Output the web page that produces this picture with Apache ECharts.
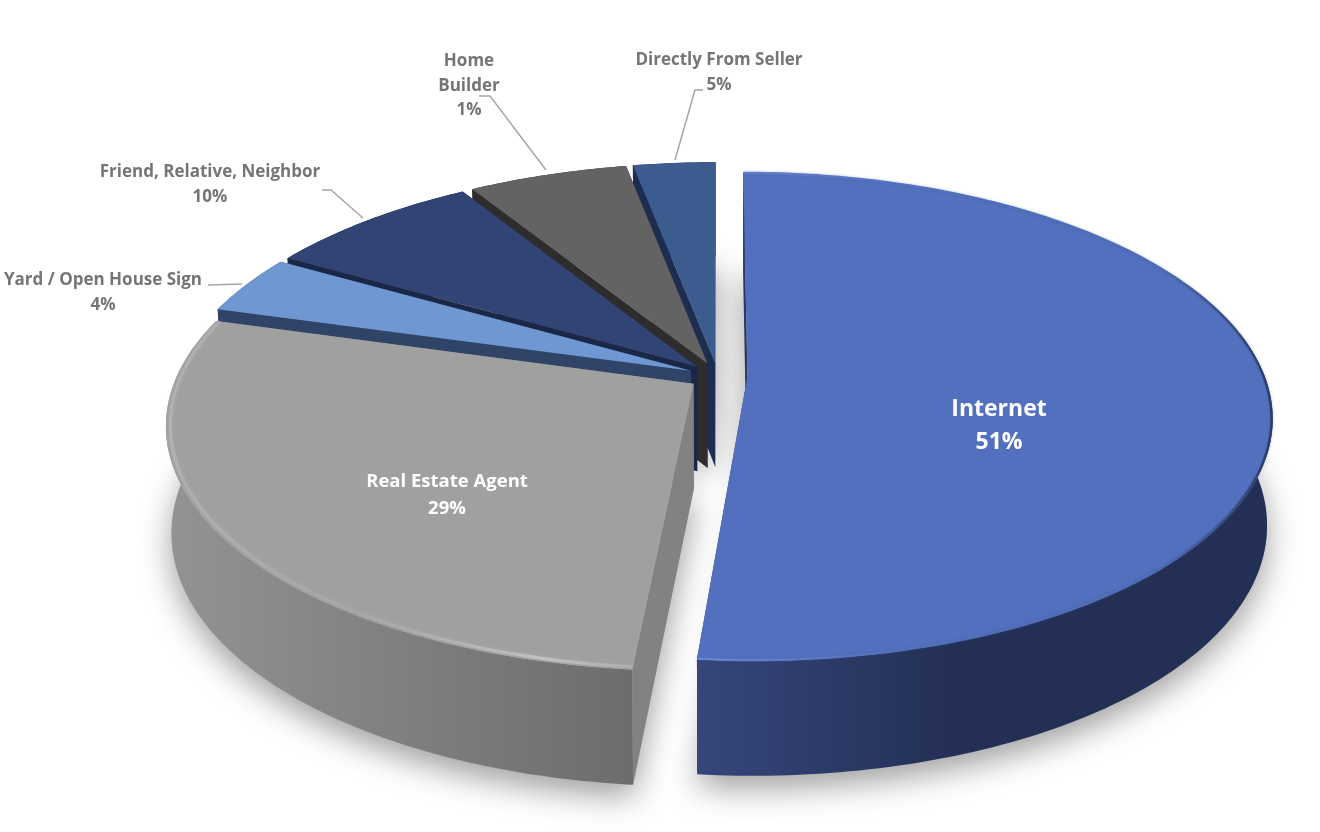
<!DOCTYPE html>
<html><head><meta charset="utf-8">
<style>html,body{margin:0;padding:0;background:#fff}#c{width:1320px;height:832px}</style>
<script src="https://cdn.jsdelivr.net/npm/echarts@6/dist/echarts.min.js"></script>
</head><body><div id="c"></div>
<script>
// ---- data ----
const categories = ['Internet','Real Estate Agent','Yard / Open House Sign','Friend, Relative, Neighbor','Home\nBuilder','Directly From Seller'];
const labelPercents = [51,29,4,10,1,5];          // printed on the chart
const drawnShares = [51.45,27.95,3.95,7.85,5.8,3];     // slice sizes as drawn (percent of the circle)

// ---- look ----
const topColors  = ['#5270bd','#a0a0a0','#6f98d3','#314473','#636363','#3c5b8f'];
const wallStops  = [['#35467a','#232f55'],['#939393','#6c6c6c'],['#2f4466','#2f4466'],['#1a2746','#1a2746'],['#2e2c2c','#2e2c2c'],['#1c2d50','#1c2d50']];
const cutColors  = ['#2a375f','#828282','#2f4466','#1a2746','#2e2c2c','#1c2d50'];
const paintOrder = [5,4,3,2,1,0];
const labelStyle = [
  {x:999,y:426,size:23,color:'#ffffff',lh:33},
  {x:447,y:495,size:18.5,color:'#ffffff',lh:27},
  {x:103,y:293,size:17,color:'#757575',lh:25},
  {x:210,y:185,size:17,color:'#757575',lh:25},
  {x:469,y:86,size:17,color:'#757575',lh:24.5},
  {x:719,y:73,size:17,color:'#757575',lh:25}
];
const leaders = [null,null,
  [[208,285],[242,284]],
  [[322,190],[331,190],[363,218]],
  [[479,96],[490,96],[546,170]],
  [[703,90],[695,90],[675,160]]
];

// ---- projection of a tilted disc ----
const CX=718, CY=376, R=517, TILT=0.459, PERSP=0.164, EXPLODE=0.057;
function proj(u,v,low){
  const d=1-PERSP*v;
  let x=R*u/d, y=R*TILT*v/d;
  if(low){ x*=0.99; y+=105+10*v; }
  return [CX+x,CY+y];
}
const total=drawnShares.reduce((a,b)=>a+b,0);
const ranges=[]; { let acc=0; drawnShares.forEach(s=>{ranges.push([acc/total*2*Math.PI,(acc+s)/total*2*Math.PI]);acc+=s;}); }
function arc(i,low,rad){
  const [a,b]=ranges[i], m=(a+b)/2, ou=Math.sin(m)*EXPLODE, ov=-Math.cos(m)*EXPLODE, pts=[];
  const n=Math.max(6,Math.ceil((b-a)*60));
  for(let k=0;k<=n;k++){const t=a+(b-a)*k/n; pts.push(proj(ou+Math.sin(t)*(rad||1),ov-Math.cos(t)*(rad||1),low));}
  return {pts,apex:proj(ou,ov,low)};
}
function wallFill(i){
  const t=arc(i,false).pts, xs=t.map(p=>p[0]), s=wallStops[i];
  return {type:'linear',global:true,x:Math.min(...xs),y:0,x2:Math.max(...xs),y2:0,
    colorStops: i===1 ? [{offset:0,color:s[0]},{offset:1,color:s[1]}]
                      : [{offset:0,color:s[0]},{offset:.45,color:s[1]},{offset:1,color:s[1]}]};
}
function slice(i){
  const up=arc(i,false), lo=arc(i,true), kids=[];
  const n=up.pts.length-1;
  kids.push({type:'polygon',shape:{points:[up.apex,up.pts[0],lo.pts[0],lo.apex]},style:{fill:cutColors[i]}});
  kids.push({type:'polygon',shape:{points:[up.apex,up.pts[n],lo.pts[n],lo.apex]},style:{fill:cutColors[i]}});
  kids.push({type:'polygon',shape:{points:up.pts.concat(lo.pts.slice().reverse())},style:{fill:wallFill(i)}});
  kids.push({type:'polygon',shape:{points:[up.apex].concat(up.pts)},style:{fill:topColors[i]}});
  if(i===1) kids.push({type:'polyline',shape:{points:arc(1,false,0.992).pts},style:{fill:null,lineWidth:3,shadowBlur:4,shadowColor:'rgba(200,200,200,.4)',
    stroke:{type:'linear',global:true,x:170,y:0,x2:635,y2:0,colorStops:[{offset:0,color:'rgba(185,185,185,.6)'},{offset:.4,color:'rgba(175,175,175,.3)'},{offset:.8,color:'rgba(205,205,205,.75)'},{offset:1,color:'rgba(190,190,190,.4)'}]}}});
  if(i===0) kids.push({type:'polyline',shape:{points:arc(0,false,0.998).pts},style:{fill:null,lineWidth:2.5,shadowBlur:3,shadowColor:'rgba(60,80,140,.35)',
    stroke:{type:'linear',global:true,x:700,y:0,x2:1272,y2:0,colorStops:[{offset:0,color:'#6583cf'},{offset:.35,color:'#5270bd'},{offset:.8,color:'#4f6cb6'},{offset:1,color:'#2d3c6b'}]}}});
  return kids;
}
const chart=echarts.init(document.getElementById('c'),null,{renderer:'canvas'});
chart.setOption({
  animation:false,
  xAxis:{show:false,min:0,max:1},yAxis:{show:false,min:0,max:1},
  grid:{left:0,right:0,top:0,bottom:0},
  series:[
    {type:'custom',silent:true,z:1,data:paintOrder.map(i=>[i]),clip:false,
     renderItem:(p,api)=>{
       const i=api.value(0), lo=arc(i,true);
       return {type:'polygon',shape:{points:[lo.apex].concat(lo.pts)},
         style:{fill:'#bbbbbb',shadowBlur:32,shadowColor:'rgba(0,0,0,.38)',shadowOffsetY:12}};
     }},
    {type:'custom',silent:true,z:2,data:paintOrder.map(i=>[i]),clip:false,
     renderItem:(p,api)=>({type:'group',children:slice(api.value(0))})},
    {type:'custom',silent:true,z:3,data:categories.map((c,i)=>[i]),clip:false,
     renderItem:(p,api)=>{
       const i=api.value(0), L=labelStyle[i], kids=[];
       if(leaders[i]) kids.push({type:'polyline',shape:{points:leaders[i]},style:{fill:null,stroke:'#a6a6a6',lineWidth:1.5}});
       kids.push({type:'text',x:L.x,y:L.y,style:{text:categories[i]+'\n'+labelPercents[i]+'%',
         fill:L.color,font:'bold '+L.size+'px "Open Sans"',lineHeight:L.lh,align:'center',verticalAlign:'middle'}});
       return {type:'group',children:kids};
     }}
  ]
});
</script></body></html>
